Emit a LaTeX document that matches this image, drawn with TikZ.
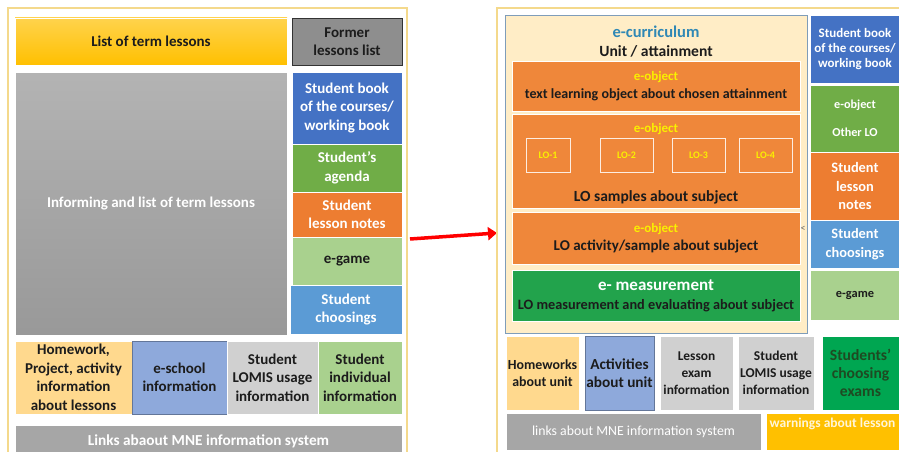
\documentclass[tikz,border=0pt]{standalone}
\usepackage{fontspec}
\setmainfont{Carlito}
\usetikzlibrary{arrows.meta}

\definecolor{gold}{HTML}{FFC000}
\definecolor{greyA}{HTML}{A6A6A6}
\definecolor{greyB}{HTML}{8E8E8E}
\definecolor{blueA}{HTML}{4472C4}
\definecolor{greenA}{HTML}{70AD47}
\definecolor{orangeA}{HTML}{ED7D31}
\definecolor{orangeB}{HTML}{EF873A}
\definecolor{lgreen}{HTML}{A9D18E}
\definecolor{sblue}{HTML}{5B9BD5}
\definecolor{peach}{HTML}{FFD98E}
\definecolor{lav}{HTML}{8EA9DB}
\definecolor{lgray}{HTML}{D0D0D0}
\definecolor{paleframe}{HTML}{F4D98C}
\definecolor{cream}{HTML}{FFEDC6}
\definecolor{ecurline}{HTML}{7F9DB9}
\definecolor{teal}{HTML}{2F88B5}
\definecolor{eobj}{HTML}{FAF000}
\definecolor{mgreen}{HTML}{22A34C}
\definecolor{dgreen}{HTML}{00A651}
\definecolor{dtext}{HTML}{1C1C1C}
\definecolor{gtext}{HTML}{1E4A22}

\newcommand{\fs}[2]{\fontsize{#1}{#2}\selectfont}

\tikzset{
  tile/.style={draw=white, line width=0.8pt, inner sep=1pt, align=center,
    font=\bfseries\fs{15}{18.5}, text=white},
  dark/.style={text=dtext},
  frame/.style={draw=paleframe, line width=1.2pt, fill=white},
  lobox/.style={draw=white!85!orangeB, line width=0.6pt, minimum height=34,
    text=eobj, font=\bfseries\fs{10}{11}},
  eobjtext/.style={text=eobj, font=\bfseries\fs{13}{14}}
}

\begin{document}
\begin{tikzpicture}[x=1pt,y=-1pt]
  \useasboundingbox (0,0) rectangle (899,452);
  \clip (0,0) rectangle (899,452);

  % left panel
  \draw[frame] (8,8) rectangle (407,460);
  \node[tile, dark, top color=gold!70!white, bottom color=gold, minimum width=272, minimum height=47] (terms) at (151,41.5) {List of term lessons};
  \node[tile, dark, draw=black!80, fill=greyB, minimum width=110, minimum height=47] (former) at (347,41.5) {Former\\lessons list};
  \node[tile, top color=greyA!85!white, bottom color=greyA!92!black, minimum width=272, minimum height=263] (inform) at (151,203.5) {Informing and list of term lessons};
  \node[tile, fill=blueA, minimum width=110, minimum height=72] (bookL) at (347,108) {Student book\\of the courses/\\working book};
  \node[tile, fill=greenA, minimum width=110, minimum height=48] (agenda) at (347,168) {Student’s\\agenda};
  \node[tile, fill=orangeA, minimum width=110, minimum height=45] (notesL) at (347,214.5) {Student\\lesson notes};
  \node[tile, dark, fill=lgreen, minimum width=110, minimum height=48] (gameL) at (347,261) {e-game};
  \node[tile, fill=sblue, minimum width=112, minimum height=49] (chooseL) at (346,309.5) {Student\\choosings};
  \node[tile, dark, fill=peach, minimum width=117, minimum height=73] (homeL) at (73.5,377.5) {Homework,\\Project, activity\\information\\about lessons};
  \node[tile, dark, fill=lav, draw=lav!70!black, minimum width=95, minimum height=73] (school) at (179.5,377.5) {e-school\\information};
  \node[tile, dark, fill=lgray, minimum width=91, minimum height=73] (lomisL) at (272.5,377.5) {Student\\LOMIS usage\\information};
  \node[tile, dark, fill=lgreen, minimum width=84, minimum height=73] (indiv) at (360,377.5) {Student\\individual\\information};
  \node[tile, fill=greyA, font=\bfseries\fs{15.3}{16}, minimum width=387, minimum height=32] (linksL) at (208.5,441) {Links abaout MNE information system};

  % arrow
  \coordinate (arrs) at (410,239);
  \coordinate (arre) at (497,233);
  \draw[red, line width=3.5pt, -{Triangle[length=9pt, width=13pt]}] (arrs) -- (arre);

  % right panel
  \draw[frame] (497,8) rectangle (905,460);
  \node[draw=ecurline, line width=0.8pt, fill=cream, minimum width=302, minimum height=318] (ecur) at (656,174) {};
  \node[text=teal, font=\bfseries\fs{16.5}{18}] (ectitle) at (656,32) {e-curriculum};
  \node[text=dtext, font=\bfseries\fs{15.6}{17}] (unit) at (656,51) {Unit / attainment};

  \node[tile, dark, fill=orangeB, font=\bfseries\fs{14}{18}, minimum width=288, minimum height=50] (obj1) at (656,86) {\textcolor{eobj}{\fs{13}{18}e-object}\\text learning object about chosen attainment};
  \node[tile, fill=orangeB, minimum width=288, minimum height=94] (obj2) at (656,161) {};
  \node[eobjtext] (obj2t) at (656,129) {e-object};
  \node[lobox, minimum width=44] (lo1) at (548,155) {LO-1};
  \node[lobox, minimum width=53] (lo2) at (626.5,155) {LO-2};
  \node[lobox, minimum width=53] (lo3) at (698.5,155) {LO-3};
  \node[lobox, minimum width=53] (lo4) at (765.5,155) {LO-4};
  \node[text=dtext, font=\bfseries\fs{15.5}{17}] (samples) at (656,197) {LO samples about subject};
  \node[tile, dark, fill=orangeB, font=\bfseries\fs{15}{18}, minimum width=288, minimum height=52] (obj3) at (656,238) {\textcolor{eobj}{\fs{13}{18}e-object}\\LO activity/sample about subject};
  \node[text=black!60, font=\fs{10}{10}] (lt) at (803,229) {<};
  \node[tile, dark, fill=mgreen, font=\bfseries\fs{14.3}{19}, minimum width=288, minimum height=51] (meas) at (656,295.5) {\textcolor{white}{\fs{17}{19}e- measurement}\\LO measurement and evaluating about subject};

  \node[tile, fill=blueA, font=\bfseries\fs{13}{15}, minimum width=90, minimum height=68] (bookR) at (855,49) {Student book\\of the courses/\\working book};
  \node[tile, fill=greenA, font=\bfseries\fs{12.2}{14.5}, minimum width=90, minimum height=67] (otherLO) at (855,118.5) {e-object\\[14pt]Other LO};
  \node[tile, fill=orangeA, font=\bfseries\fs{14.4}{18.5}, minimum width=90, minimum height=68] (notesR) at (855,186) {Student\\lesson\\notes};
  \node[tile, fill=sblue, font=\bfseries\fs{14.4}{18.5}, minimum width=90, minimum height=48] (chooseR) at (855,244) {Student\\choosings};
  \node[tile, dark, fill=lgreen, font=\bfseries\fs{12.4}{14}, minimum width=90, minimum height=50] (gameR) at (855,295) {e-game};

  \node[tile, dark, fill=peach, font=\bfseries\fs{13.9}{17}, minimum width=73, minimum height=74] (homeR) at (542.5,373) {Homeworks\\about unit};
  \node[tile, dark, fill=lav, draw=lav!70!black, font=\bfseries\fs{15.3}{18}, minimum width=69, minimum height=74] (actR) at (619.5,373) {Activities\\about unit};
  \node[tile, dark, fill=lgray, font=\bfseries\fs{13.4}{17}, minimum width=73, minimum height=74] (examR) at (696.5,373) {Lesson\\exam\\information};
  \node[tile, dark, fill=lgray, font=\bfseries\fs{13.5}{17}, minimum width=76, minimum height=74] (lomisR) at (776,373) {Student\\LOMIS usage\\information};
  \node[tile, fill=dgreen, text=gtext, font=\bfseries\fs{15.6}{18}, minimum width=77, minimum height=74] (chooseEx) at (860.5,373) {Students’\\choosing\\exams};
  \node[tile, fill=greyA, font=\fs{13.8}{15}, minimum width=255, minimum height=37] (linksR) at (633.5,431.5) {links about MNE information system};
  \node[tile, fill=gold, minimum width=133, minimum height=37, anchor=north] (warn) at (832.5,413) {};
  \node[text=white!85!gold, font=\bfseries\fs{13.5}{14}] (warnt) at (832.5,424) {warnings about lesson};
\end{tikzpicture}
\end{document}
